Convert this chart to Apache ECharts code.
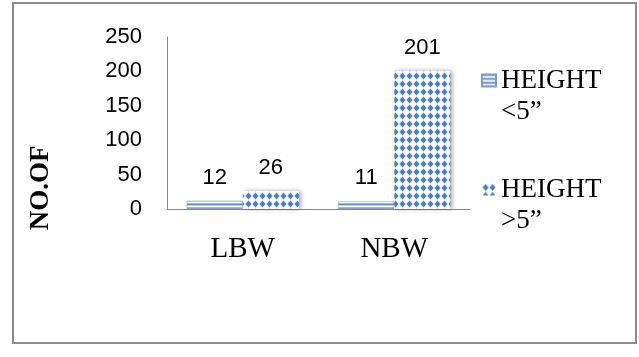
<!DOCTYPE html>
<html><head><meta charset="utf-8">
<script src="https://cdn.jsdelivr.net/npm/echarts@6/dist/echarts.min.js"></script>
<style>html,body{margin:0;padding:0;background:#fff}#c{width:639px;height:357px}</style>
</head><body><div id="c"></div>
<script>
var categories = ['LBW', 'NBW'];
var seriesNames = ['HEIGHT <5\u201d', 'HEIGHT >5\u201d'];
var heightBelow5 = [12, 11];
var heightAbove5 = [26, 201];
var yTicks = { min: 0, max: 250, interval: 50 };
var yTitle = 'NO.OF';

function stripePattern() {
  var c = document.createElement('canvas'); c.width = 4; c.height = 4;
  var g = c.getContext('2d');
  var rows = ['#5f87c0', '#c9daf0', '#ffffff', '#9dbbe3'];
  for (var i = 0; i < 4; i++) { g.fillStyle = rows[i]; g.fillRect(0, i, 4, 1); }
  return c;
}
function diamondPattern() {
  var c = document.createElement('canvas'); c.width = 7; c.height = 8;
  var g = c.getContext('2d');
  g.fillStyle = '#ffffff'; g.fillRect(0, 0, 7, 8);
  g.fillStyle = '#4a7fc3';
  g.beginPath(); g.moveTo(3.5, 0.5); g.lineTo(6.6, 4); g.lineTo(3.5, 7.5); g.lineTo(0.4, 4); g.closePath(); g.fill();
  return c;
}

var SERIF = '"Liberation Serif", "Times New Roman", serif';
var chart = echarts.init(document.getElementById('c'));
var labelStyle = { show: true, position: 'top', distance: 12, color: '#000', fontFamily: 'Liberation Sans', fontSize: 22 };
var legendText = {
  color: '#000', fontFamily: SERIF, fontSize: 27, fontWeight: 'normal',
  rich: {
    p: { fontFamily: SERIF, fontSize: 27, lineHeight: 31 },
    t: { fontFamily: SERIF, fontSize: 27, lineHeight: 31, color: '#000', fontWeight: 'normal' }
  }
};
chart.setOption({
  animation: false,
  backgroundColor: '#fff',
  grid: { left: 167, right: 169, top: 37, bottom: 148 },
  legend: {
    orient: 'vertical', left: 481, top: 36, padding: 0, itemGap: 20,
    itemWidth: 14, itemHeight: 12, icon: 'rect',
    data: seriesNames.map(function (n) { return { name: n, textStyle: legendText }; }),
    formatter: function (name) {
      var parts = name.split(' ');
      return '{p| }\n{t|' + parts[0] + '}\n{t|' + parts[1] + '}';
    },
    textStyle: legendText
  },
  xAxis: {
    type: 'category', data: categories,
    axisLine: { lineStyle: { color: '#868686', width: 1 } },
    axisTick: { show: false },
    axisLabel: { color: '#000', fontFamily: 'Liberation Serif', fontSize: 29, margin: 26 }
  },
  yAxis: {
    type: 'value', min: yTicks.min, max: yTicks.max, interval: yTicks.interval,
    axisLine: { show: true, lineStyle: { color: '#868686', width: 1 } },
    axisTick: { show: false }, splitLine: { show: false },
    axisLabel: { color: '#000', fontFamily: 'Liberation Sans', fontSize: 22, margin: 25 }
  },
  graphic: [
    { type: 'rect', shape: { x: 13, y: 3, width: 623, height: 340 }, style: { fill: 'none', stroke: '#8c8c8c', lineWidth: 2 }, silent: true },
    { type: 'text', x: 41, y: 188, rotation: Math.PI / 2,
      style: { text: yTitle, textAlign: 'center', textVerticalAlign: 'middle', font: 'bold 27px "Liberation Serif"', fill: '#000' } }
  ],
  series: [
    { name: seriesNames[0], type: 'bar', data: heightBelow5, barGap: '0%', barCategoryGap: '26%',
      itemStyle: { color: { image: stripePattern(), repeat: 'repeat' }, borderColor: '#7f9cc4', borderWidth: 0.5 },
      label: labelStyle },
    { name: seriesNames[1], type: 'bar', data: heightAbove5,
      itemStyle: { color: { image: diamondPattern(), repeat: 'repeat' }, shadowColor: 'rgba(0,0,0,0.35)', shadowBlur: 4, shadowOffsetX: 2 },
      label: labelStyle }
  ]
});
</script></body></html>
